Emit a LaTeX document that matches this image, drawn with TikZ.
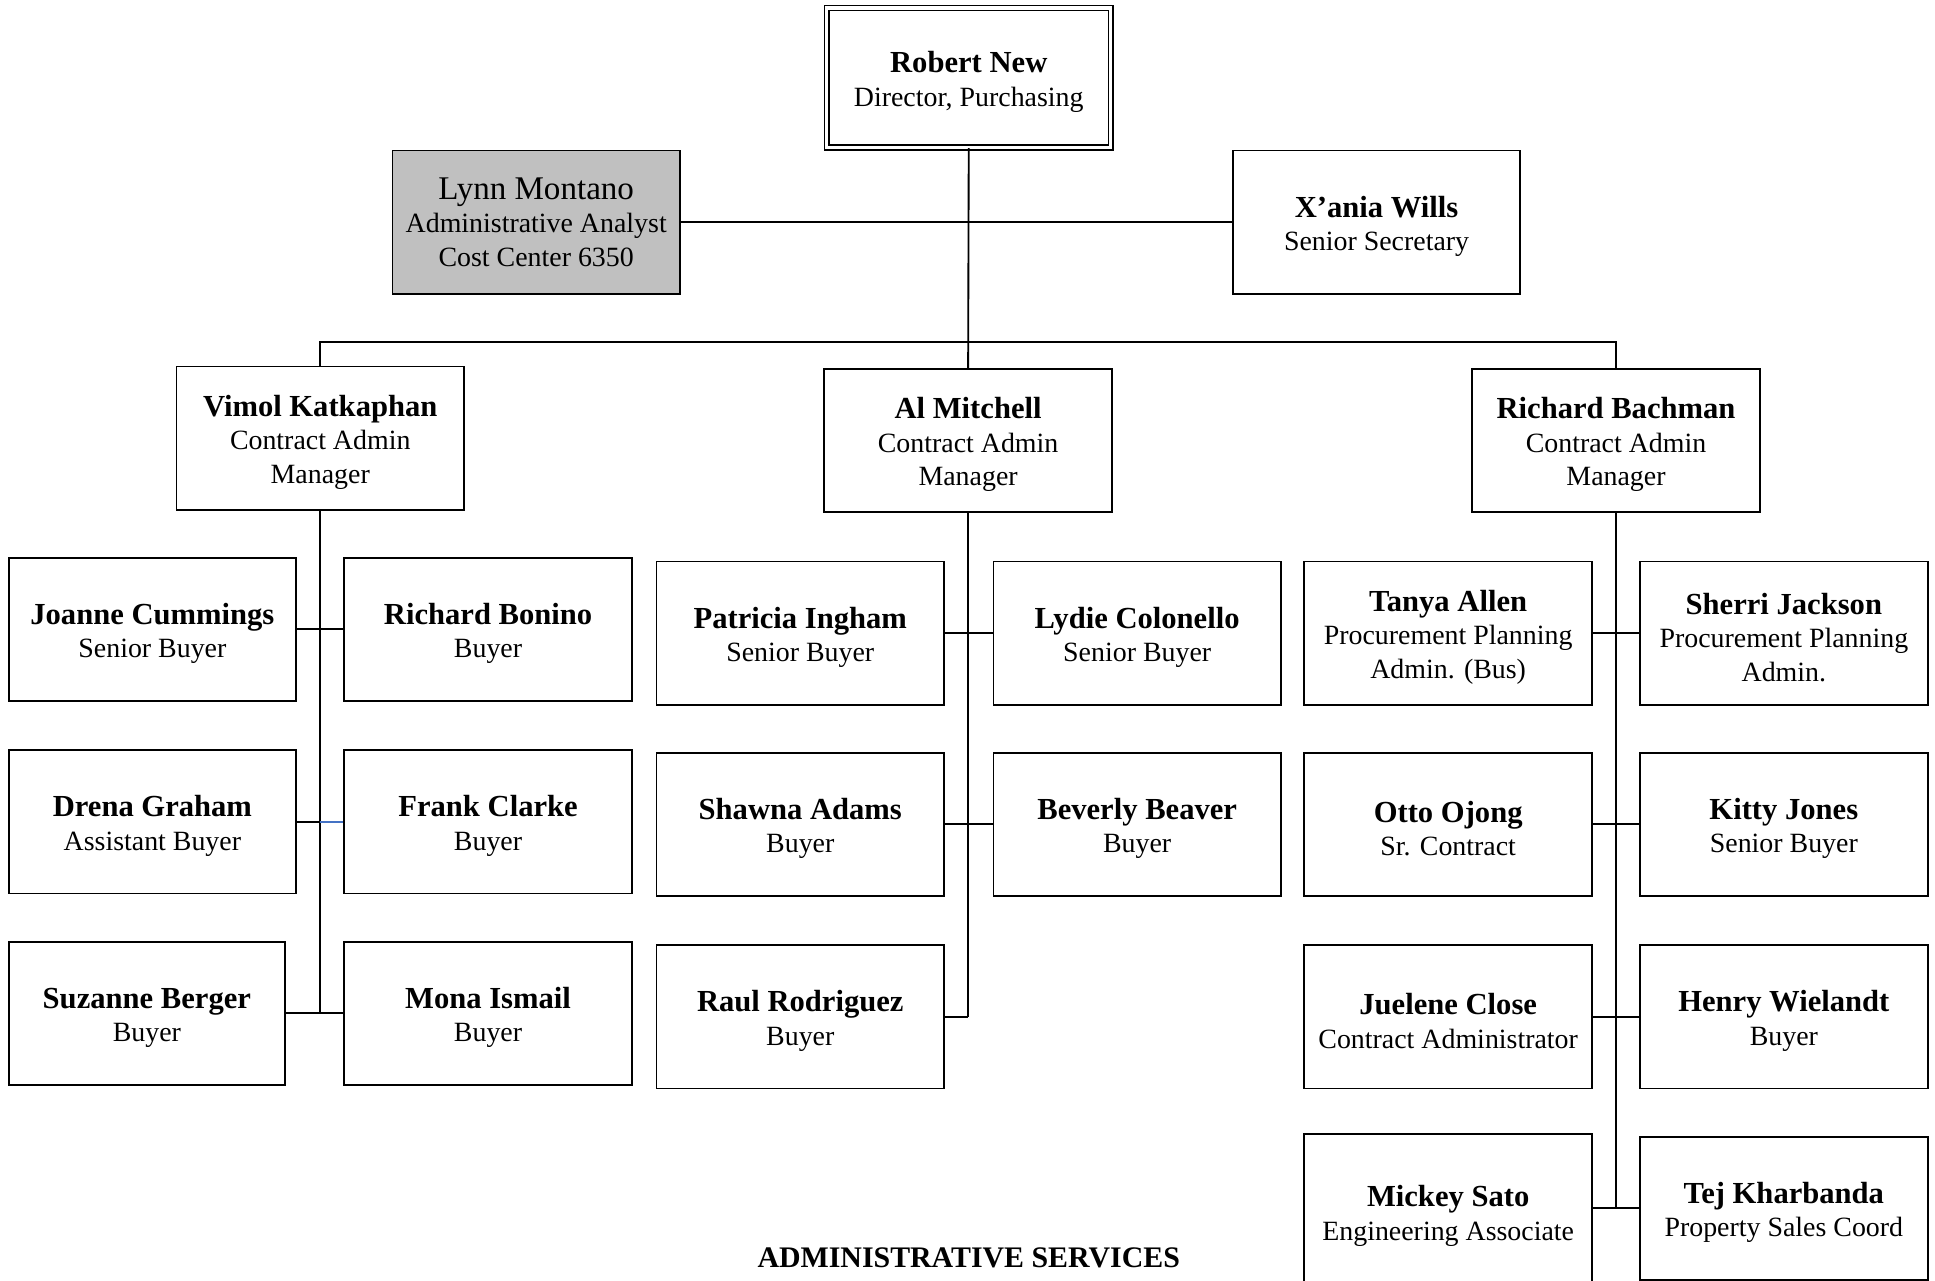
\documentclass[tikz,border=0pt]{standalone}
\usepackage{fontspec}
\setmainfont{Liberation Serif}
\definecolor{linkblue}{HTML}{4472C4}
\definecolor{boxgray}{HTML}{C0C0C0}
\newcommand{\nm}[1]{{\fontsize{12.4}{13.6}\selectfont\bfseries\rule{0pt}{12pt}#1}}
\begin{document}
\begin{tikzpicture}[x=0.5pt,y=-0.5pt,
  box/.style={draw, line width=0.75pt, minimum width=116.5pt, minimum height=58pt,
    align=center, inner sep=0pt, font=\fontsize{11.3}{13.6}\selectfont},
  conn/.style={line width=0.75pt}]
\clip (0,0) rectangle (1568,1038);
\fill[white] (0,0) rectangle (1568,1038);
% top level
\node[box, double, double distance=1.3pt, line width=0.6pt, minimum width=115pt, minimum height=56.5pt] (robert) at (785,63) {\nm{Robert New}\\Director, Purchasing};
\node[box, fill=boxgray] (lynn) at (434.5,180) {{\fontsize{13.4}{13.3}\selectfont Lynn Montano}\\Administrative Analyst\\Cost Center 6350};
\node[box] (xania) at (1115.5,180) {\nm{X’ania Wills}\\Senior Secretary};
% managers
\node[box] (vimol) at (259.5,355) {\nm{Vimol Katkaphan}\\Contract Admin\\Manager};
\node[box] (al) at (784.5,357) {\nm{Al Mitchell}\\Contract Admin\\Manager};
\node[box] (bach) at (1309.5,357) {\nm{Richard Bachman}\\Contract Admin\\Manager};
% left group
\node[box] (joanne) at (123.5,510) {\nm{Joanne Cummings}\\Senior Buyer};
\node[box] (bonino) at (395.5,510) {\nm{Richard Bonino}\\Buyer};
\node[box] (drena) at (123.5,666) {\nm{Drena Graham}\\Assistant Buyer};
\node[box] (frank) at (395.5,666) {\nm{Frank Clarke}\\Buyer};
\node[box, minimum width=112pt] (suzanne) at (119,821) {\nm{Suzanne Berger}\\Buyer};
\node[box] (mona) at (395.5,821) {\nm{Mona Ismail}\\Buyer};
% middle group
\node[box] (patricia) at (648.5,513) {\nm{Patricia Ingham}\\Senior Buyer};
\node[box] (lydie) at (921.5,513) {\nm{Lydie Colonello}\\Senior Buyer};
\node[box] (shawna) at (648.5,668) {\nm{Shawna Adams}\\Buyer};
\node[box] (beverly) at (921.5,668) {\nm{Beverly Beaver}\\Buyer};
\node[box] (raul) at (648.5,824) {\nm{Raul Rodriguez}\\Buyer};
% right group
\node[box] (tanya) at (1173.5,513) {\nm{Tanya Allen}\\Procurement Planning\\Admin. (Bus)};
\node[box] (sherri) at (1445.5,513) {\nm{Sherri Jackson}\\Procurement Planning\\Admin.};
\node[box] (otto) at (1173.5,668) {\nm{Otto Ojong}\\Sr. Contract};
\node[box] (kitty) at (1445.5,668) {\nm{Kitty Jones}\\Senior Buyer};
\node[box] (juelene) at (1173.5,824) {\nm{Juelene Close}\\Contract Administrator};
\node[box] (henry) at (1445.5,824) {\nm{Henry Wielandt}\\Buyer};
\node[box, minimum height=63pt] (mickey) at (1173.5,982) {\nm{Mickey Sato}\\Engineering Associate};
\node[box] (tej) at (1445.5,979) {\nm{Tej Kharbanda}\\Property Sales Coord};
% footer
\node[font=\fontsize{12.1}{14}\selectfont\bfseries] (footer) at (785,1019) {ADMINISTRATIVE SERVICES};
% connectors
\coordinate (bus) at (785,277);
\draw[conn] (robert.south) -- (al.north);
\draw[conn] (lynn.east) -- (xania.west);
\draw[conn] (vimol.north) -- (vimol.north |- bus) -| (bach.north);
% left
\draw[conn] (vimol.south) -- (vimol.south |- suzanne.east);
\draw[conn] (joanne.east) -- (bonino.west);
\draw[conn] (drena.east) -- (drena.east -| vimol.south);
\draw[conn, linkblue] (drena.east -| vimol.south) -- (frank.west);
\draw[conn] (suzanne.east) -- (mona.west);
% middle
\draw[conn] (al.south) -- (al.south |- raul.east);
\draw[conn] (patricia.east) -- (lydie.west);
\draw[conn] (shawna.east) -- (beverly.west);
\draw[conn] (raul.east) -- (raul.east -| al.south);
% right
\draw[conn] (bach.south) -- (bach.south |- tej.west);
\draw[conn] (tanya.east) -- (sherri.west);
\draw[conn] (otto.east) -- (kitty.west);
\draw[conn] (juelene.east) -- (henry.west);
\draw[conn] (tej.west -| mickey.east) -- (tej.west);
\end{tikzpicture}
\end{document}
